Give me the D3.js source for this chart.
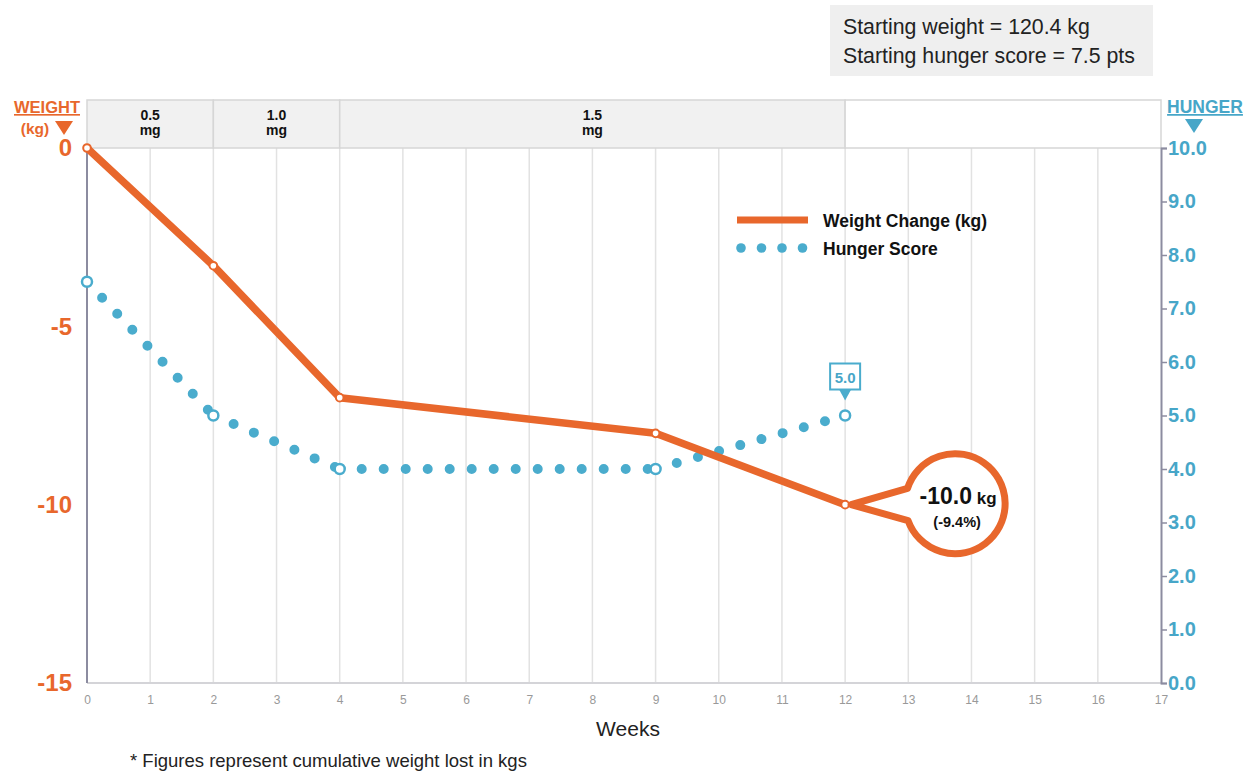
<!DOCTYPE html>
<html>
<head>
<meta charset="utf-8">
<script src="https://cdn.jsdelivr.net/npm/d3@7"></script>
<style>
  body { margin: 0; background: #fff; }
  text { font-family: "Liberation Sans", Arial, sans-serif; }
</style>
</head>
<body>
<svg class="entry-point"></svg>
<script>
/* data */
const weeks = [0, 2, 4, 9, 12]
const weightChange = [0, -3.3, -7.0, -8.0, -10.0]
const hungerScore = [7.5, 5.0, 4.0, 4.0, 5.0]
const doses = [
  { from: 0, to: 2, label: '0.5' },
  { from: 2, to: 4, label: '1.0' },
  { from: 4, to: 12, label: '1.5' },
  { from: 12, to: 17, label: '' }
]
const weightTicks = [0, -5, -10, -15]
const hungerTicks = [10, 9, 8, 7, 6, 5, 4, 3, 2, 1, 0]
const weekTicks = d3.range(0, 18)
const lastPct = '-9.4%'

const ORANGE = '#e8672c', BLUE = '#4aaccd', BLUE_TXT = '#47a6c8'
const FONT = '"Liberation Sans", Arial, sans-serif'

const W = 1250, H = 774
const svg = d3.select('.entry-point').attr('width', W).attr('height', H)

const x = d3.scaleLinear().domain([0, 17]).range([87, 1161])
const yW = d3.scaleLinear().domain([-15, 0]).range([683, 148])
const yH = d3.scaleLinear().domain([0, 10]).range([683, 148])

/* info box */
svg.append('rect').attr('x', 830).attr('y', 5).attr('width', 323).attr('height', 71).attr('fill', '#efefef')
svg.append('text').attr('x', 843).attr('y', 34).attr('font-size', 21.3).attr('fill', '#222').text('Starting weight = 120.4 kg')
svg.append('text').attr('x', 843).attr('y', 63).attr('font-size', 21.3).attr('fill', '#222').text('Starting hunger score = 7.5 pts')

/* grid */
svg.append('g').selectAll('line').data(weekTicks.slice(1, -1)).enter().append('line')
  .attr('x1', d => x(d)).attr('x2', d => x(d))
  .attr('y1', yW(0)).attr('y2', yW(-15))
  .attr('stroke', '#e2e2e2').attr('stroke-width', 1.5)
svg.append('line').attr('x1', x(0)).attr('x2', x(17)).attr('y1', yW(-15)).attr('y2', yW(-15))
  .attr('stroke', '#d4d4d8').attr('stroke-width', 2)

/* dose band */
const band = svg.append('g')
band.selectAll('rect').data(doses).enter().append('rect')
  .attr('x', d => x(d.from)).attr('width', d => x(d.to) - x(d.from))
  .attr('y', 100).attr('height', 48)
  .attr('fill', d => d.label ? '#f1f1f1' : '#fff')
  .attr('stroke', '#d6d6d6').attr('stroke-width', 1.5)
band.selectAll('text.dose').data(doses.filter(d => d.label)).enter().append('text')
  .attr('class', 'dose')
  .attr('x', d => (x(d.from) + x(d.to)) / 2).attr('y', 120)
  .attr('text-anchor', 'middle').attr('font-size', 14).attr('font-weight', 'bold').attr('fill', '#111')
  .each(function (d) {
    const t = d3.select(this)
    t.append('tspan').attr('x', (x(d.from) + x(d.to)) / 2).text(d.label)
    t.append('tspan').attr('x', (x(d.from) + x(d.to)) / 2).attr('dy', 15).text('mg')
  })

/* axes */
svg.append('line').attr('x1', x(0)).attr('x2', x(0)).attr('y1', yW(0)).attr('y2', yW(-15))
  .attr('stroke', '#8c8ca0').attr('stroke-width', 2)

const rightAxis = svg.append('g').attr('transform', `translate(${x(17)},0)`)
  .call(d3.axisRight(yH).tickValues(hungerTicks).tickSize(6).tickFormat(d => d.toFixed(1)))
rightAxis.select('.domain').attr('stroke', '#8c8ca0').attr('stroke-width', 2)
rightAxis.selectAll('.tick line').attr('stroke', '#8c8ca0').attr('stroke-width', 1.5)
rightAxis.selectAll('.tick text').attr('x', 7).attr('fill', BLUE_TXT).attr('font-size', 20)
  .attr('font-weight', 'bold').attr('font-family', FONT)

const leftAxis = svg.append('g').attr('transform', `translate(${x(0)},0)`)
  .call(d3.axisLeft(yW).tickValues(weightTicks).tickSize(0).tickFormat(d => String(d)))
leftAxis.select('.domain').remove()
leftAxis.selectAll('.tick text').attr('x', -15).attr('fill', ORANGE).attr('font-size', 24)
  .attr('font-weight', 'bold').attr('font-family', FONT)

const bottomAxis = svg.append('g').attr('transform', `translate(0,${yW(-15)})`)
  .call(d3.axisBottom(x).tickValues(weekTicks).tickSize(0).tickFormat(d => String(d)))
bottomAxis.select('.domain').remove()
bottomAxis.selectAll('.tick text').attr('y', 12).attr('fill', '#999').attr('font-size', 12)
  .attr('font-family', FONT)

svg.append('text').attr('x', 628).attr('y', 736).attr('text-anchor', 'middle')
  .attr('font-size', 21).attr('fill', '#222').text('Weeks')
svg.append('text').attr('x', 130).attr('y', 767).attr('font-size', 18.5).attr('fill', '#222')
  .text('* Figures represent cumulative weight lost in kgs')

/* axis titles */
svg.append('text').attr('x', 47).attr('y', 113).attr('text-anchor', 'middle')
  .attr('font-size', 16.5).attr('font-weight', 'bold').attr('fill', ORANGE)
  .attr('text-decoration', 'underline').text('WEIGHT')
svg.append('text').attr('x', 35).attr('y', 134).attr('text-anchor', 'middle')
  .attr('font-size', 15.5).attr('font-weight', 'bold').attr('fill', ORANGE).text('(kg)')
svg.append('path').attr('d', 'M55,121 L73,121 L64,135 Z').attr('fill', ORANGE)

svg.append('text').attr('x', 1205).attr('y', 113).attr('text-anchor', 'middle')
  .attr('font-size', 17.5).attr('font-weight', 'bold').attr('fill', BLUE_TXT)
  .attr('text-decoration', 'underline').text('HUNGER')
svg.append('path').attr('d', 'M1185,119 L1203,119 L1194,133 Z').attr('fill', BLUE_TXT)

/* hunger dotted line, restarting at each point */
const hPts = weeks.map((w, i) => [x(w), yH(hungerScore[i])])
svg.append('g').selectAll('line').data(d3.pairs(hPts)).enter().append('line')
  .attr('x1', d => d[0][0]).attr('y1', d => d[0][1])
  .attr('x2', d => d[1][0]).attr('y2', d => d[1][1])
  .attr('stroke', BLUE).attr('stroke-width', 10)
  .attr('stroke-linecap', 'round').attr('stroke-dasharray', '0 22')

/* weight line */
const wLine = d3.line().x((d, i) => x(weeks[i])).y(d => yW(d))
svg.append('path').datum(weightChange).attr('d', wLine)
  .attr('fill', 'none').attr('stroke', ORANGE).attr('stroke-width', 7.5)
  .attr('stroke-linejoin', 'round')

svg.append('g').selectAll('circle').data(hungerScore).enter().append('circle')
  .attr('cx', (d, i) => x(weeks[i])).attr('cy', d => yH(d)).attr('r', 5)
  .attr('fill', '#fff').attr('stroke', BLUE).attr('stroke-width', 2.5)

svg.append('g').selectAll('circle').data(weightChange).enter().append('circle')
  .attr('cx', (d, i) => x(weeks[i])).attr('cy', d => yW(d)).attr('r', 3.8)
  .attr('fill', '#fff').attr('stroke', ORANGE).attr('stroke-width', 2)

/* legend */
svg.append('line').attr('x1', 737).attr('x2', 808).attr('y1', 220).attr('y2', 220)
  .attr('stroke', ORANGE).attr('stroke-width', 7)
svg.append('g').selectAll('circle').data([0, 1, 2, 3]).enter().append('circle')
  .attr('cx', d => 741 + d * 20.5).attr('cy', 248).attr('r', 4.8).attr('fill', BLUE)
svg.append('text').attr('x', 823).attr('y', 227).attr('font-size', 17.5).attr('font-weight', 'bold')
  .attr('fill', '#111').text('Weight Change (kg)')
svg.append('text').attr('x', 823).attr('y', 255).attr('font-size', 17.5).attr('font-weight', 'bold')
  .attr('fill', '#111').text('Hunger Score')

/* last hunger callout */
const last = weeks.length - 1
const hx = x(weeks[last]), hy = yH(hungerScore[last])
svg.append('rect').attr('x', hx - 15).attr('y', hy - 52).attr('width', 30).attr('height', 26)
  .attr('fill', '#fff').attr('stroke', BLUE).attr('stroke-width', 2)
svg.append('path').attr('d', `M${hx - 6},${hy - 26} L${hx + 6},${hy - 26} L${hx},${hy - 15} Z`).attr('fill', BLUE)
svg.append('text').attr('x', hx).attr('y', hy - 33).attr('text-anchor', 'middle')
  .attr('font-size', 15).attr('font-weight', 'bold').attr('fill', BLUE_TXT)
  .text(hungerScore[last].toFixed(1))

/* last weight callout bubble */
const wx = x(weeks[last]), wy = yW(weightChange[last])
const cx = wx + 110, cy = wy - 1, r = 50
const aA = Math.atan2(-16, -50), aB = Math.atan2(18, -50)
const p = d3.path()
p.moveTo(wx + 6, wy)
p.lineTo(cx + r * Math.cos(aA), cy + r * Math.sin(aA))
p.arc(cx, cy, r, aA, aB, false)
p.closePath()
svg.append('path').attr('d', p.toString()).attr('fill', '#fff')
  .attr('stroke', ORANGE).attr('stroke-width', 7).attr('stroke-linejoin', 'round')
const lbl = svg.append('text').attr('x', cx + 3).attr('y', cy + 0).attr('text-anchor', 'middle')
  .attr('fill', '#111').attr('font-weight', 'bold')
lbl.append('tspan').attr('font-size', 23).text(weightChange[last].toFixed(1))
lbl.append('tspan').attr('font-size', 17).text(' kg')
svg.append('text').attr('x', cx + 2).attr('y', cy + 23).attr('text-anchor', 'middle')
  .attr('font-size', 14.5).attr('font-weight', 'bold').attr('fill', '#111')
  .text(`(${lastPct})`)
</script>
</body>
</html>
